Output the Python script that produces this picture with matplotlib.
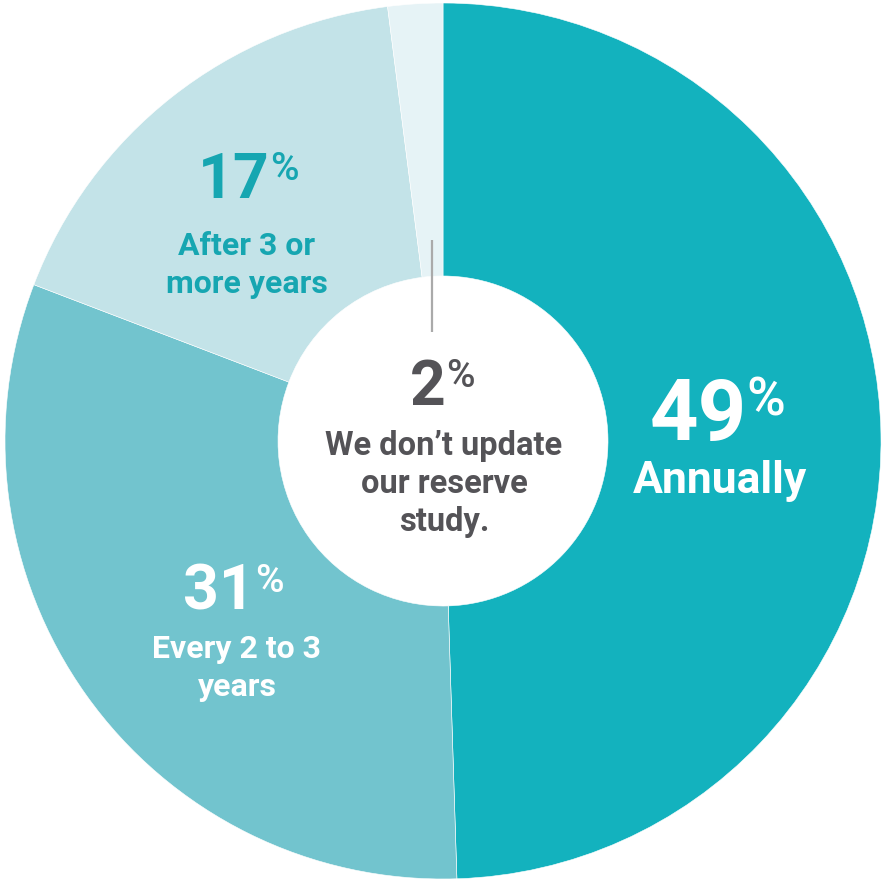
import matplotlib
matplotlib.use("Agg")
import matplotlib.pyplot as plt

plt.rcParams['font.family'] = ['Roboto', 'DejaVu Sans']

# data
categories = ["Annually", "Every 2 to 3\nyears", "After 3 or\nmore years",
              "We don\u2019t update\nour reserve\nstudy."]
shares = [49, 31, 17, 2]
slice_colors = ["#13B2BE", "#72C4CE", "#C3E3E8", "#E6F3F6"]

# text layout (pixel positions in the 882px picture): number centre x, number baseline,
# label centre x, label first baseline
label_pos = [(698, 440, 720, 493), (219, 610, 237, 658),
             (234, 198, 247, 255), (428, 405, 444, 455)]
num_colors = ["white", "white", "#16A6B1", "#545357"]
num_sizes = [61, 45, 45, 45]
pct_sizes = [38, 28, 28, 28]
lab_sizes = [32, 23, 23, 23.5]
LINE_STEP = 38  # px between label lines

CX, CY, R = 443, 441, 438


def to_data(px, py):
    return (px - CX) / R, (CY - py) / R


fig = plt.figure(figsize=(8.82, 8.82), dpi=100)
ax = fig.add_axes([0, 0, 1, 1])
ax.pie(shares, colors=slice_colors, startangle=90, counterclock=False, radius=1,
       wedgeprops=dict(width=1 - 165 / R, edgecolor="white", linewidth=0.4))
ax.set_xlim(-CX / R, (882 - CX) / R)
ax.set_ylim(-(882 - CY) / R, CY / R)
ax.set_aspect("equal")
ax.axis("off")

# leader line for the small slice
x0, y0 = to_data(432, 240)
x1, y1 = to_data(432, 332)
ax.plot([x0, x1], [y0, y1], color="#AAAAAA", lw=1.6, solid_capstyle="butt")

for i, (share, cat) in enumerate(zip(shares, categories)):
    nx, nb, lx, lb = label_pos[i]
    col = num_colors[i]
    tx, ty = to_data(nx, nb)
    num = ax.text(tx, ty, f"{share}", ha="center", va="baseline", color=col,
                  fontsize=num_sizes[i], fontweight="bold")
    ax.annotate("%", xy=(1, 1), xycoords=num, xytext=(0, 0), textcoords="offset points",
                ha="left", va="top", color=col, fontsize=pct_sizes[i], fontweight="medium")
    lab_col = "white" if i < 2 else col
    for k, line in enumerate(cat.split("\n")):
        lx_d, ly_d = to_data(lx, lb + k * LINE_STEP)
        ax.text(lx_d, ly_d, line, ha="center", va="baseline", color=lab_col,
                fontsize=lab_sizes[i], fontweight="bold")

fig.savefig("out.png", dpi=100)
